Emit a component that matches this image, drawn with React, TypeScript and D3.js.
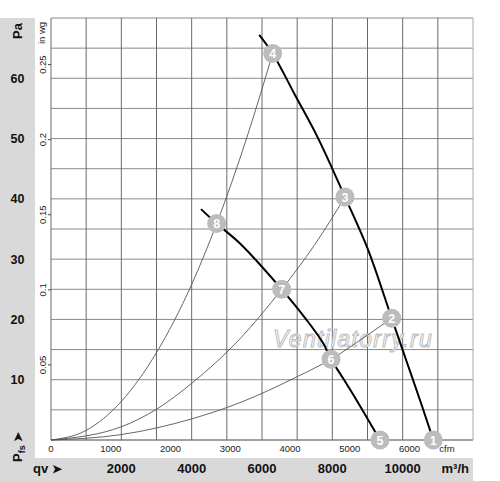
import React from 'react'
import * as d3 from 'd3'

// flow in m3/h, pressure in Pa
const fanHighQ = [5920, 6303, 6950, 7600, 8360, 9020, 9688, 10120, 10540, 10871]
const fanHighP = [67.2, 64.1, 57.1, 50.0, 40.3, 31.5, 20.2, 12.9, 5.8, 0]

const fanLowQ = [4265, 4711, 5375, 6560, 7271, 7745, 7962, 8310, 8690, 9355]
const fanLowP = [38.3, 35.9, 32.6, 25.0, 19.9, 16.0, 13.4, 10.2, 6.6, 0]

const sysAQ = [0, 1000, 2000, 3000, 4000, 4711, 5560, 6303]
const sysAP = [0, 1.6, 6.4, 14.5, 25.8, 35.9, 50.0, 64.1]
const sysBQ = [0, 2000, 3000, 4000, 5375, 6560, 7500, 8360]
const sysBP = [0, 2.2, 5.1, 9.4, 16.8, 25.0, 32.4, 40.3]
const sysCQ = [0, 2000, 4000, 5375, 7000, 7962, 9000, 9688]
const sysCP = [0, 0.9, 3.5, 6.2, 10.5, 13.4, 17.4, 20.2]

const markerIds = ['1', '2', '3', '4', '5', '6', '7', '8']
const markerQ = [10871, 9688, 8360, 6303, 9355, 7962, 6560, 4711]
const markerP = [0, 20.2, 40.3, 64.1, 0, 13.4, 25.0, 35.9]

const paTicks = [10, 20, 30, 40, 50, 60]
const inwgTicks = ['0.05', '0.1', '0.15', '0.2', '0.25']
const cfmTicks = [0, 1000, 2000, 3000, 4000, 5000, 6000]
const m3hTicks = [2000, 4000, 6000, 8000, 10000]

const PA_PER_INWG = 249.089
const M3H_PER_CFM = 1.69901

const font = 'Liberation Sans, Arial, sans-serif'

export default function App() {
    const left = 51, right = 473, top = 18, bottom = 440

    const x = d3.scaleLinear().domain([0, 12000]).range([left, right])
    const y = d3.scaleLinear().domain([0, 70]).range([bottom, top])

    const sysLine = d3.line<[number, number]>()
        .x(d => x(d[0]))
        .y(d => y(d[1]))
        .curve(d3.curveMonotoneX)

    const fanLine = d3.line<[number, number]>()
        .x(d => x(d[0]))
        .y(d => y(d[1]))
        .curve(d3.curveCatmullRom.alpha(0.5))

    const pts = (q: number[], p: number[]) => q.map((v, i) => [v, p[i]] as [number, number])

    const vGrid = d3.range(0, 12001, 1000)
    const hGrid = d3.range(0, 71, 5)

    return (
        <div style={{ position: 'absolute', left: 0, top: 0 }}>
            <svg width={500} height={481} style={{ display: 'block', fontFamily: font }}>
                <rect x={0} y={0} width={500} height={481} fill="#fff" />
                {/* gray side panels */}
                <rect x={0} y={top} width={35} height={481 - top} fill="#d9d9d9" />
                <rect x={0} y={458} width={right} height={23} fill="#d9d9d9" />

                {/* grid */}
                {hGrid.map(v => (
                    <line key={'h' + v} x1={left} x2={right} y1={y(v)} y2={y(v)}
                        stroke={v === 0 ? '#444' : '#8a8a8a'} strokeWidth={v === 0 ? 1.2 : 1} />
                ))}
                {vGrid.map(v => (
                    <line key={'v' + v} x1={x(v)} x2={x(v)} y1={top} y2={bottom}
                        stroke={v === 12000 ? '#aaa' : '#6a6a6a'} strokeWidth={1} />
                ))}

                {/* watermark */}
                <text x={273} y={347} fontSize={23} fontStyle="italic" fill="#fff" stroke="#bdbdbd"
                    strokeWidth={1} letterSpacing={1.3}>Ventilatorry.ru</text>

                {/* system curves */}
                {[pts(sysAQ, sysAP), pts(sysBQ, sysBP), pts(sysCQ, sysCP)].map((d, i) => (
                    <path key={'s' + i} d={sysLine(d) || ''} fill="none" stroke="#555" strokeWidth={0.9} />
                ))}

                {/* fan curves */}
                <path d={fanLine(pts(fanHighQ, fanHighP)) || ''} fill="none" stroke="#000" strokeWidth={2} />
                <path d={fanLine(pts(fanLowQ, fanLowP)) || ''} fill="none" stroke="#000" strokeWidth={2} />

                {/* markers */}
                {markerIds.map((id, i) => (
                    <g key={'m' + id} transform={`translate(${x(markerQ[i])},${y(markerP[i])})`}>
                        <circle r={9.5} fill="#bcbcbc" />
                        <text textAnchor="middle" dy="0.36em" fontSize={12.5} fontWeight="bold" fill="#fff">{id}</text>
                    </g>
                ))}

                {/* Pa axis */}
                <text transform="translate(22,31) rotate(-90)" textAnchor="middle" fontSize={13} fontWeight="bold" fill="#111">Pa</text>
                {paTicks.map(v => (
                    <text key={'pa' + v} x={17.5} y={y(v)} dy="0.36em" textAnchor="middle" fontSize={12.5} fontWeight="bold" fill="#111">{v}</text>
                ))}
                <text transform="translate(22,447) rotate(-90)" textAnchor="middle" fontSize={13} fontWeight="bold" fill="#111">
                    P<tspan fontSize={9} dy={3}>fs</tspan><tspan dy={-3} fontSize={12}> ➤</tspan>
                </text>

                {/* in wg axis */}
                <text transform="translate(45,33) rotate(-90)" textAnchor="middle" fontSize={9.5} fill="#222">in wg</text>
                {inwgTicks.map(v => {
                    const yy = y(+v * PA_PER_INWG)
                    return (
                        <g key={'iw' + v}>
                            <line x1={48} x2={51} y1={yy} y2={yy} stroke="#444" />
                            <text transform={`translate(45.5,${yy}) rotate(-90)`} textAnchor="middle" fontSize={9.5} fill="#222">{v}</text>
                        </g>
                    )
                })}

                {/* cfm axis */}
                {cfmTicks.map(v => (
                    <text key={'cfm' + v} x={x(v * M3H_PER_CFM)} y={452} textAnchor="middle" fontSize={9.5} fill="#222">{v}</text>
                ))}
                <text x={447} y={452} textAnchor="middle" fontSize={9.5} fill="#222">cfm</text>

                {/* m3/h axis */}
                <text x={33} y={473} fontSize={13} fontWeight="bold" fill="#111">qv<tspan dx={4} fontSize={12}>➤</tspan></text>
                {m3hTicks.map(v => (
                    <text key={'m3' + v} x={x(v)} y={473} textAnchor="middle" fontSize={13} fontWeight="bold" fill="#111">{v}</text>
                ))}
                <text x={469} y={473} textAnchor="end" fontSize={13} fontWeight="bold" fill="#111">m³/h</text>
            </svg>
        </div>
    )
}
